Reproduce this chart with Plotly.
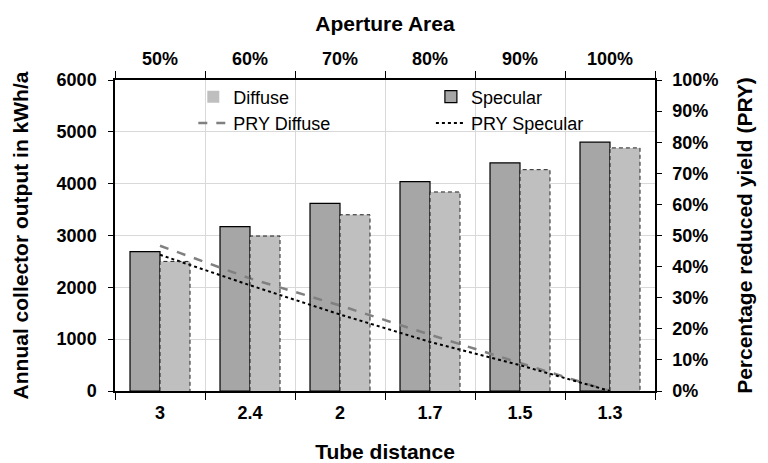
import plotly.graph_objects as go

tube_distance = ["3", "2.4", "2", "1.7", "1.5", "1.3"]
aperture_area = ["50%", "60%", "70%", "80%", "90%", "100%"]
specular = [2690, 3170, 3620, 4040, 4400, 4800]
diffuse = [2500, 2990, 3400, 3840, 4270, 4690]
pry_diffuse = [0.467, 0.362, 0.275, 0.181, 0.090, 0.0]
pry_specular = [0.438, 0.340, 0.246, 0.158, 0.083, 0.0]

FONT = "Liberation Sans"
bar_w = 1/3

fig = go.Figure()
fig.add_trace(go.Bar(x=tube_distance, y=specular, name="Specular", width=bar_w,
                     offset=-bar_w, marker=dict(color="#A6A6A6", line=dict(color="black", width=1.2)),
                     legend="legend2"))
fig.add_trace(go.Bar(x=tube_distance, y=diffuse, name="Diffuse", width=bar_w,
                     offset=0, marker=dict(color="#BFBFBF", line=dict(width=0)),
                     legend="legend"))
# dashed outline of diffuse bars, derived from the data on a hidden numeric axis
ox, oy = [], []
for i, v in enumerate(diffuse):
    ox += [i, i, i + bar_w, i + bar_w, None]
    oy += [0, v, v, 0, None]
fig.add_trace(go.Scatter(x=ox, y=oy, xaxis="x3", mode="lines", showlegend=False,
                         line=dict(color="#222222", width=1, dash="4px,3px"), hoverinfo="skip"))
fig.add_trace(go.Scatter(x=aperture_area, y=pry_diffuse, name="PRY Diffuse", xaxis="x2", yaxis="y2",
                         mode="lines", line=dict(color="#808080", width=2.5, dash="dash"),
                         legend="legend"))
fig.add_trace(go.Scatter(x=aperture_area, y=pry_specular, name="PRY Specular", xaxis="x2", yaxis="y2",
                         mode="lines", line=dict(color="black", width=2, dash="dot"),
                         legend="legend2"))

tickfont = dict(family=FONT, size=18, color="black", weight="bold")
titlefont = dict(family=FONT, size=21, color="black", weight="bold")
legfont = dict(family=FONT, size=18, color="black")

fig.update_layout(
    width=768, height=463,
    margin=dict(l=115, r=113, t=80, b=72, autoexpand=False),
    paper_bgcolor="white", plot_bgcolor="white",
    font=dict(family=FONT, color="black"),
    barmode="overlay",
    xaxis=dict(type="category", categoryorder="array", categoryarray=tube_distance,
               range=[-0.5, 5.5], tickson="boundaries", ticks="outside", ticklen=7,
               tickcolor="black", showline=True, linecolor="black", linewidth=1.5,
               showgrid=True, gridcolor="#D9D9D9", gridwidth=1,
               tickfont=tickfont, ticklabelstandoff=5,
               title=dict(text="<b>Tube distance</b>", font=titlefont, standoff=23)),
    xaxis2=dict(type="category", categoryorder="array", categoryarray=aperture_area,
                range=[-0.5, 5.5], overlaying="x", side="top", anchor="y",
                tickson="boundaries", ticks="outside", ticklen=7, tickcolor="black",
                showline=True, linecolor="black", linewidth=1.5, showgrid=False,
                tickfont=tickfont, ticklabelstandoff=6,
                title=dict(text="<b>Aperture Area</b>", font=titlefont, standoff=12)),
    xaxis3=dict(range=[-0.5, 5.5], overlaying="x", visible=False, anchor="y"),
    yaxis=dict(range=[0, 6000], dtick=1000, ticks="outside", ticklen=5, tickcolor="black",
               showline=True, linecolor="black", linewidth=1.5,
               showgrid=True, gridcolor="#D9D9D9", gridwidth=1, zeroline=False,
               tickfont=tickfont, ticklabelstandoff=8,
               title=dict(text="<b>Annual collector output in kWh/a</b>", font=titlefont, standoff=22)),
    yaxis2=dict(range=[0, 1], dtick=0.1, tickformat=".0%", overlaying="y", side="right",
                anchor="x", ticks="outside", ticklen=5, tickcolor="black",
                showline=True, linecolor="black", linewidth=1.5, showgrid=False, zeroline=False,
                tickfont=tickfont, ticklabelstandoff=7,
                title=dict(text="<b>Percentage reduced yield (PRY)</b>", font=titlefont, standoff=20)),
    legend=dict(x=0.145, y=1.005, xanchor="left", yanchor="top", bgcolor="rgba(0,0,0,0)",
                font=legfont, traceorder="normal", tracegroupgap=0),
    legend2=dict(x=0.585, y=1.005, xanchor="left", yanchor="top", bgcolor="rgba(0,0,0,0)",
                 font=legfont, traceorder="normal", tracegroupgap=0),
    showlegend=True,
)

fig.write_html("out.html", config={"displayModeBar": False},
               post_script="document.body.style.margin='0';")
